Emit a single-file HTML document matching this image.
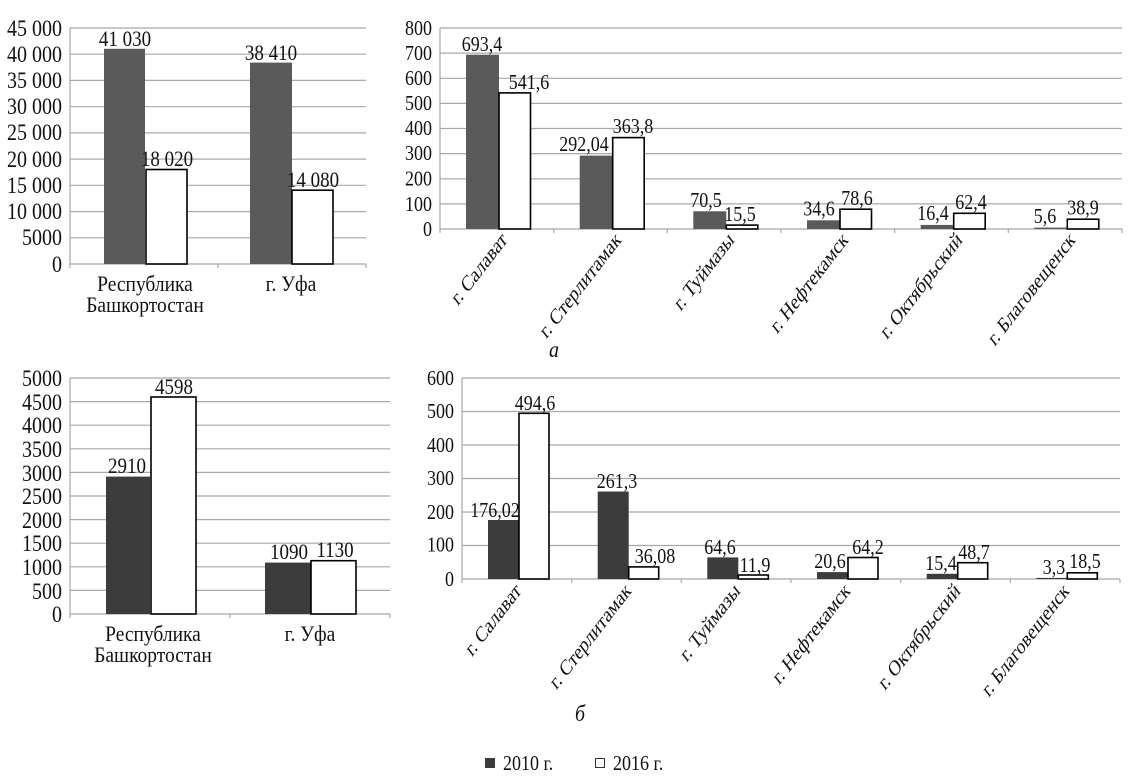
<!DOCTYPE html>
<html><head><meta charset="utf-8"><style>
html,body{margin:0;padding:0;background:#fff}
svg{display:block}
text{font-family:"Liberation Serif","DejaVu Serif",serif;fill:#111}
g.s text, text.s{transform-box:fill-box;transform-origin:center;transform:scaleY(1.15)}
</style></head><body>
<svg width="1138" height="781" viewBox="0 0 1138 781" xmlns="http://www.w3.org/2000/svg">
<g stroke="#a8a8a8" stroke-width="1.2">
<line x1="70" y1="28" x2="366" y2="28"/><line x1="70" y1="54.2" x2="366" y2="54.2"/><line x1="70" y1="80.4" x2="366" y2="80.4"/><line x1="70" y1="106.7" x2="366" y2="106.7"/><line x1="70" y1="132.9" x2="366" y2="132.9"/><line x1="70" y1="159.1" x2="366" y2="159.1"/><line x1="70" y1="185.3" x2="366" y2="185.3"/><line x1="70" y1="211.6" x2="366" y2="211.6"/><line x1="70" y1="237.8" x2="366" y2="237.8"/><line x1="70" y1="264" x2="366" y2="264"/>
<line x1="70" y1="28" x2="70" y2="268"/><line x1="218" y1="264" x2="218" y2="268"/><line x1="366" y1="264" x2="366" y2="268"/>
<line x1="440" y1="28" x2="1122" y2="28"/><line x1="440" y1="53.1" x2="1122" y2="53.1"/><line x1="440" y1="78.3" x2="1122" y2="78.3"/><line x1="440" y1="103.4" x2="1122" y2="103.4"/><line x1="440" y1="128.5" x2="1122" y2="128.5"/><line x1="440" y1="153.6" x2="1122" y2="153.6"/><line x1="440" y1="178.8" x2="1122" y2="178.8"/><line x1="440" y1="203.9" x2="1122" y2="203.9"/><line x1="440" y1="229" x2="1122" y2="229"/>
<line x1="440" y1="28" x2="440" y2="233"/><line x1="553.7" y1="229" x2="553.7" y2="233"/><line x1="667.3" y1="229" x2="667.3" y2="233"/><line x1="781" y1="229" x2="781" y2="233"/><line x1="894.7" y1="229" x2="894.7" y2="233"/><line x1="1008.3" y1="229" x2="1008.3" y2="233"/><line x1="1122" y1="229" x2="1122" y2="233"/>
<line x1="70" y1="378" x2="390" y2="378"/><line x1="70" y1="401.6" x2="390" y2="401.6"/><line x1="70" y1="425.2" x2="390" y2="425.2"/><line x1="70" y1="448.8" x2="390" y2="448.8"/><line x1="70" y1="472.4" x2="390" y2="472.4"/><line x1="70" y1="496" x2="390" y2="496"/><line x1="70" y1="519.6" x2="390" y2="519.6"/><line x1="70" y1="543.2" x2="390" y2="543.2"/><line x1="70" y1="566.8" x2="390" y2="566.8"/><line x1="70" y1="590.4" x2="390" y2="590.4"/><line x1="70" y1="614" x2="390" y2="614"/>
<line x1="70" y1="378" x2="70" y2="618"/><line x1="230" y1="614" x2="230" y2="618"/><line x1="390" y1="614" x2="390" y2="618"/>
<line x1="462" y1="378" x2="1120" y2="378"/><line x1="462" y1="411.5" x2="1120" y2="411.5"/><line x1="462" y1="445" x2="1120" y2="445"/><line x1="462" y1="478.5" x2="1120" y2="478.5"/><line x1="462" y1="512" x2="1120" y2="512"/><line x1="462" y1="545.5" x2="1120" y2="545.5"/><line x1="462" y1="579" x2="1120" y2="579"/>
<line x1="462" y1="378" x2="462" y2="583"/><line x1="571.7" y1="579" x2="571.7" y2="583"/><line x1="681.3" y1="579" x2="681.3" y2="583"/><line x1="791" y1="579" x2="791" y2="583"/><line x1="900.7" y1="579" x2="900.7" y2="583"/><line x1="1010.3" y1="579" x2="1010.3" y2="583"/><line x1="1120" y1="579" x2="1120" y2="583"/>
</g>

<rect x="104" y="48.8" width="41" height="215.2" fill="#5a5a5a"/>
<rect x="146" y="169.5" width="41" height="94.5" fill="#fff" stroke="#000" stroke-width="1.6"/>
<rect x="250" y="62.6" width="42" height="201.4" fill="#5a5a5a"/>
<rect x="292" y="190.2" width="41" height="73.8" fill="#fff" stroke="#000" stroke-width="1.6"/>
<g class="s" font-size="19" text-anchor="middle">
<text x="125" y="45">41 030</text><text x="167" y="165">18 020</text>
<text x="271" y="59">38 410</text><text x="313" y="186">14 080</text>
</g>
<g class="s" font-size="20" text-anchor="end">
<text x="62" y="35">45 000</text><text x="62" y="61">40 000</text><text x="62" y="87">35 000</text><text x="62" y="113">30 000</text><text x="62" y="139">25 000</text><text x="62" y="166">20 000</text><text x="62" y="192">15 000</text><text x="62" y="218">10 000</text><text x="62" y="244">5000</text><text x="62" y="271">0</text>
</g>
<g class="s" font-size="19.5" text-anchor="middle">
<text x="145" y="290">Республика</text><text x="145" y="311">Башкортостан</text><text x="291" y="290">г. Уфа</text>
</g>

<g fill="#5a5a5a">
<rect x="466" y="54.7" width="33" height="174.3"/>
<rect x="579.7" y="155.6" width="33" height="73.4"/>
<rect x="693.3" y="211.3" width="33" height="17.7"/>
<rect x="807" y="220.3" width="33" height="8.7"/>
<rect x="920.7" y="224.9" width="33" height="4.1"/>
<rect x="1034.3" y="227.6" width="33" height="1.4"/>
</g>
<g fill="#fff" stroke="#000" stroke-width="1.6">
<rect x="499" y="92.9" width="31.5" height="136.1"/>
<rect x="612.7" y="137.6" width="31.5" height="91.4"/>
<rect x="726.3" y="225.1" width="31.5" height="3.9"/>
<rect x="840" y="209.2" width="31.5" height="19.8"/>
<rect x="953.7" y="213.3" width="31.5" height="15.7"/>
<rect x="1067.3" y="219.2" width="31.5" height="9.8"/>
</g>
<g class="s" font-size="18" text-anchor="middle">
<text x="482" y="50">693,4</text><text x="529" y="88">541,6</text>
<text x="584" y="150">292,04</text><text x="633" y="132">363,8</text>
<text x="706" y="206">70,5</text><text x="740" y="220">15,5</text>
<text x="819" y="215">34,6</text><text x="857" y="204">78,6</text>
<text x="933" y="219">16,4</text><text x="971" y="208">62,4</text>
<text x="1045" y="222">5,6</text><text x="1083" y="214">38,9</text>
</g>
<g class="s" font-size="18" text-anchor="end">
<text x="432" y="34">800</text><text x="432" y="59">700</text><text x="432" y="84">600</text><text x="432" y="109">500</text><text x="432" y="134">400</text><text x="432" y="159">300</text><text x="432" y="185">200</text><text x="432" y="210">100</text><text x="432" y="235">0</text>
</g>
<g font-size="17" text-anchor="end">
<text transform="translate(508,241) scale(1,1.3) rotate(-45)">г. Салават</text>
<text transform="translate(622,241) scale(1,1.3) rotate(-45)">г. Стерлитамак</text>
<text transform="translate(735,241) scale(1,1.3) rotate(-45)">г. Туймазы</text>
<text transform="translate(849,241) scale(1,1.3) rotate(-45)">г. Нефтекамск</text>
<text transform="translate(963,241) scale(1,1.3) rotate(-45)">г. Октябрьский</text>
<text transform="translate(1076,241) scale(1,1.3) rotate(-45)">г. Благовещенск</text>
</g>
<text class="s" x="549" y="356" font-size="20" font-style="italic">а</text>

<rect x="106" y="476.6" width="44" height="137.4" fill="#3c3c3c"/>
<rect x="151" y="397" width="45" height="217" fill="#fff" stroke="#000" stroke-width="1.6"/>
<rect x="265" y="562.6" width="46" height="51.4" fill="#3c3c3c"/>
<rect x="311" y="560.7" width="45" height="53.3" fill="#fff" stroke="#000" stroke-width="1.6"/>
<g class="s" font-size="19" text-anchor="middle">
<text x="127" y="472">2910</text><text x="174" y="393">4598</text>
<text x="289" y="558">1090</text><text x="335" y="556">1130</text>
</g>
<g class="s" font-size="20" text-anchor="end">
<text x="62" y="385">5000</text><text x="62" y="409">4500</text><text x="62" y="432">4000</text><text x="62" y="456">3500</text><text x="62" y="480">3000</text><text x="62" y="503">2500</text><text x="62" y="527">2000</text><text x="62" y="550">1500</text><text x="62" y="574">1000</text><text x="62" y="598">500</text><text x="62" y="621">0</text>
</g>
<g class="s" font-size="19.5" text-anchor="middle">
<text x="153" y="640">Республика</text><text x="153" y="661">Башкортостан</text><text x="310" y="640">г. Уфа</text>
</g>

<g fill="#3c3c3c">
<rect x="488" y="520" width="31" height="59"/>
<rect x="597.7" y="491.5" width="31" height="87.5"/>
<rect x="707.3" y="557.4" width="31" height="21.6"/>
<rect x="817" y="572.1" width="31" height="6.9"/>
<rect x="926.7" y="573.8" width="31" height="5.2"/>
<rect x="1036.3" y="577.9" width="31" height="1.1"/>
</g>
<g fill="#fff" stroke="#000" stroke-width="1.6">
<rect x="519" y="413.3" width="30" height="165.7"/>
<rect x="628.7" y="566.9" width="30" height="12.1"/>
<rect x="738.3" y="575" width="30" height="4"/>
<rect x="848" y="557.5" width="30" height="21.5"/>
<rect x="957.7" y="562.7" width="30" height="16.3"/>
<rect x="1067.3" y="572.8" width="30" height="6.2"/>
</g>
<g class="s" font-size="18" text-anchor="middle">
<text x="495" y="516">176,02</text><text x="535" y="409">494,6</text>
<text x="617" y="487">261,3</text><text x="655" y="562">36,08</text>
<text x="720" y="553">64,6</text><text x="755" y="571">11,9</text>
<text x="830" y="567">20,6</text><text x="868" y="553">64,2</text>
<text x="941" y="569">15,4</text><text x="974" y="558">48,7</text>
<text x="1054" y="573">3,3</text><text x="1085" y="567">18,5</text>
</g>
<g class="s" font-size="18" text-anchor="end">
<text x="454" y="384">600</text><text x="454" y="417">500</text><text x="454" y="451">400</text><text x="454" y="484">300</text><text x="454" y="518">200</text><text x="454" y="551">100</text><text x="454" y="585">0</text>
</g>
<g font-size="17" text-anchor="end">
<text transform="translate(522,592) scale(1,1.3) rotate(-45)">г. Салават</text>
<text transform="translate(632,592) scale(1,1.3) rotate(-45)">г. Стерлитамак</text>
<text transform="translate(741,592) scale(1,1.3) rotate(-45)">г. Туймазы</text>
<text transform="translate(851,592) scale(1,1.3) rotate(-45)">г. Нефтекамск</text>
<text transform="translate(961,592) scale(1,1.3) rotate(-45)">г. Октябрьский</text>
<text transform="translate(1070,592) scale(1,1.3) rotate(-45)">г. Благовещенск</text>
</g>
<text class="s" x="575" y="720" font-size="20" font-style="italic">б</text>

<rect x="485" y="758" width="10" height="10" fill="#3c3c3c"/>
<text class="s" x="503" y="769" font-size="18">2010 г.</text>
<rect x="595.5" y="758.5" width="9" height="9" fill="#fff" stroke="#333" stroke-width="1"/>
<text class="s" x="613" y="769" font-size="18">2016 г.</text>
</svg>
</body></html>
